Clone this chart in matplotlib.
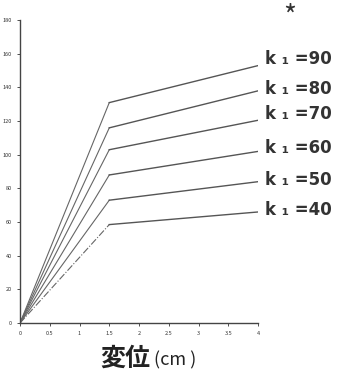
import matplotlib
matplotlib.use("Agg")
import matplotlib.pyplot as plt

plt.rcParams['font.family'] = ['Noto Sans CJK JP', 'DejaVu Sans']

k_values = [90, 80, 70, 60, 50, 40]
x_points = [0, 1.5, 4]
y_at_break = [131, 116, 103, 88, 73, 58.5]
y_at_end = [153, 138, 120.5, 102, 84, 66]
label_offset = [4, 1, 4, 2, 1, 1]

x_ticks = [0, 0.5, 1, 1.5, 2, 2.5, 3, 3.5, 4]
x_ticklabels = ["0", "0.5", "1", "1.5", "2", "2.5", "3", "3.5", "4"]
y_ticks = [0, 20, 40, 60, 80, 100, 120, 140, 160, 180]

fig = plt.figure(figsize=(3.45, 3.88), dpi=100)
ax = fig.add_axes([0.058, 0.1675, 0.69, 0.7805])

for k, yb, ye, off in zip(k_values, y_at_break, y_at_end, label_offset):
    ax.plot(x_points[:2], [0, yb], color='#666666', lw=0.8, ls='-.' if k == 40 else '-')
    ax.plot(x_points[1:], [yb, ye], color='#555555', lw=1.0)
    ax.text(4.12, ye + off, f"k ₁ ={k}", fontsize=12, fontweight='bold',
            color='#333333', va='center', ha='left', family=['DejaVu Sans'])

ax.set_xlim(0, 4)
ax.set_ylim(0, 180)
ax.set_xticks(x_ticks)
ax.set_xticklabels(x_ticklabels)
ax.set_yticks(y_ticks)
ax.tick_params(labelsize=4, length=2, width=0.6, colors='#333333', pad=4)
for s in ['top', 'right']:
    ax.spines[s].set_visible(False)
for s in ['left', 'bottom']:
    ax.spines[s].set_color('#444444')
    ax.spines[s].set_linewidth(1.0)

fig.text(0.437, 0.075, "変位", fontsize=18, fontweight='bold', ha='right', va='center', color='#222222')
fig.text(0.445, 0.072, "(cm )", fontsize=13, ha='left', va='center', color='#222222')
fig.text(0.84, 0.955, "*", fontsize=20, ha='center', va='center', color='#333333')

fig.savefig("out.png", dpi=100)
